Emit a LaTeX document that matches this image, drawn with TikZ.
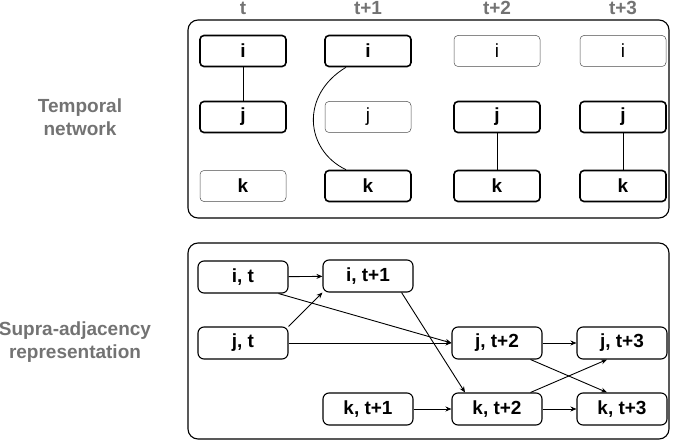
\documentclass[tikz,border=0pt]{standalone}
\usepackage{fontspec}
\setmainfont{Liberation Sans}
\usetikzlibrary{arrows.meta}
\begin{document}
\begin{tikzpicture}[x=1pt,y=-1pt,
 nd/.style={draw,rounded corners=4pt,minimum width=86pt,minimum height=31pt,font=\bfseries\fontsize{19}{21}\selectfont,line width=1.6pt},
 th/.style={draw,rounded corners=4pt,minimum width=86pt,minimum height=31pt,font=\fontsize{19}{21}\selectfont,line width=0.5pt,draw=black!70},
 sn/.style={draw,rounded corners=6pt,minimum width=90pt,minimum height=32pt,font=\bfseries\fontsize{19}{21}\selectfont,line width=1.1pt},
 hd/.style={font=\bfseries\fontsize{19}{21}\selectfont,text=black!55},
 lb/.style={font=\bfseries\fontsize{19}{23}\selectfont,text=black!55,align=center},
 ar/.style={-{Stealth[length=6pt,width=5pt]},line width=0.9pt}]
\useasboundingbox (0,0) rectangle (685,441);
\node[draw,rounded corners=10pt,line width=1.1pt,minimum width=481pt,minimum height=198pt] (topbox) at (428.5,119) {};
\node[draw,rounded corners=10pt,line width=1.1pt,minimum width=481pt,minimum height=196pt] (botbox) at (428.5,341) {};
\node[hd] (h0) at (243,8) {t};
\node[hd] (h1) at (368,8) {t+1};
\node[hd] (h2) at (497,8) {t+2};
\node[hd] (h3) at (623,8) {t+3};
\node[lb] (l1) at (80,117) {Temporal\\network};
\node[lb] (l2) at (75,342) {Supra-adjacency\\representation};
% temporal network
\node[nd] (i0) at (243,51) {i};
\node[nd] (j0) at (243,117) {j};
\node[th,font=\bfseries\fontsize{19}{21}\selectfont] (k0) at (243,186) {k};
\node[nd] (i1) at (368,51) {i};
\node[th] (j1) at (368,117) {j};
\node[nd] (k1) at (368,186) {k};
\node[th] (i2) at (497,51) {i};
\node[nd] (j2) at (497,117) {j};
\node[nd] (k2) at (497,186) {k};
\node[th] (i3) at (623,51) {i};
\node[nd] (j3) at (623,117) {j};
\node[nd] (k3) at (623,186) {k};
\draw[line width=0.8pt] (i0) -- (j0);
\draw[line width=0.8pt] (j2) -- (k2);
\draw[line width=0.8pt] (j3) -- (k3);
\draw[line width=0.8pt] ([xshift=-22pt]i1.south) .. controls (300,95) and (305,150) .. ([xshift=-22pt]k1.north);
% supra
\node[sn] (a) at (243,277) {i, t};
\node[sn] (b) at (368,276) {i, t+1};
\node[sn] (c) at (243,343) {j, t};
\node[sn] (d) at (497,343) {j, t+2};
\node[sn] (e) at (622,343) {j, t+3};
\node[sn] (f) at (368,409) {k, t+1};
\node[sn] (g) at (497,409) {k, t+2};
\node[sn] (h) at (622,409) {k, t+3};
\draw[ar] (a) -- (b);
\draw[ar] (c.north east) -- (b.south west);
\draw[ar] ([xshift=-10pt]a.south east) -- (d.west);
\draw[ar] (c) -- (d);
\draw[ar] ([xshift=-12pt]b.south east) -- ([xshift=-32pt]g.north);
\draw[ar] (f) -- (g);
\draw[ar] (d) -- (e);
\draw[ar] ([xshift=-12pt]d.south east) -- ([xshift=-15pt]h.north);
\draw[ar] ([xshift=-12pt]g.north east) -- ([xshift=-15pt]e.south);
\draw[ar] (g) -- (h);
\end{tikzpicture}
\end{document}
